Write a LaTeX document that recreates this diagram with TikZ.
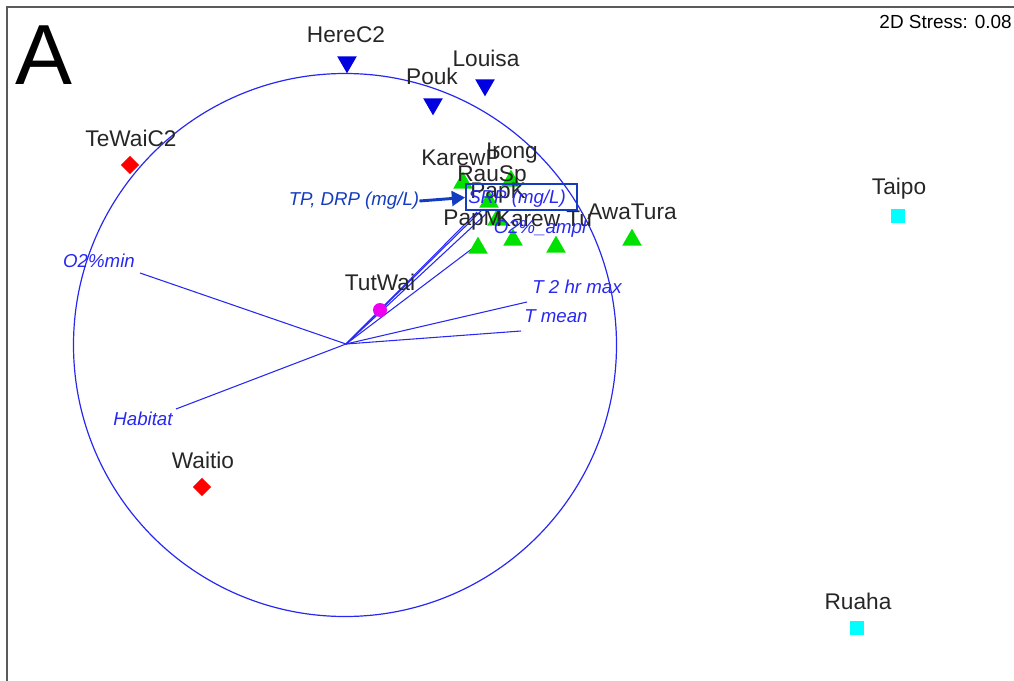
\documentclass[tikz,border=0pt]{standalone}
\usepackage{fontspec}
\setmainfont{Liberation Sans}
\usetikzlibrary{shapes.geometric,arrows.meta}
\definecolor{vecblue}{RGB}{40,40,240}
\definecolor{darkblue}{RGB}{20,60,190}
\definecolor{triblue}{RGB}{0,0,225}
\definecolor{grn}{RGB}{0,225,0}
\definecolor{cyn}{RGB}{0,255,255}
\definecolor{mag}{RGB}{240,0,240}
\definecolor{framegray}{RGB}{90,90,90}
\tikzset{
  site/.style={font=\fontsize{17}{17}\selectfont, text=black!85, inner sep=0pt},
  vlabel/.style={font=\fontsize{14}{14}\selectfont\itshape, text=vecblue, inner sep=0pt},
  vecline/.style={draw=vecblue, line width=0.8pt},
  uptri/.style={regular polygon, regular polygon sides=3, fill=grn, inner sep=0pt, minimum size=17pt},
  dntri/.style={regular polygon, regular polygon sides=3, shape border rotate=180, fill=triblue, inner sep=0pt, minimum size=17pt},
  dmd/.style={diamond, fill=red, inner sep=0pt, minimum size=14pt},
  sqr/.style={rectangle, fill=cyn, inner sep=0pt, minimum size=10.5pt},
  dot/.style={circle, fill=mag, inner sep=0pt, minimum size=10.5pt}
}
\begin{document}
\begin{tikzpicture}[x=0.75pt,y=-0.75pt]
\useasboundingbox (0,0) rectangle (1014,681);
% frame
\draw[framegray, line width=1.2pt] (7,681) -- (7,7) -- (1014,7);
\node[font=\fontsize{64}{64}\selectfont, inner sep=0pt] (A) at (44,55) {A};
\node[font=\fontsize{14.2}{14.2}\selectfont, anchor=east, inner sep=0pt] (stress) at (1012,22) {2D Stress: 0.08};

% circle
\coordinate (O) at (346,344);
\draw[vecblue, line width=0.9pt] (345,345) circle[radius=271.5*0.75pt];

% vectors
\coordinate (eO2min) at (140,273);
\coordinate (eHab) at (176,409);
\coordinate (eTmax) at (527,302);
\coordinate (eTmean) at (521,331);
\coordinate (eO2ampl) at (477,245);
\coordinate (eTP) at (477,212);
\coordinate (eDRP) at (482,210);
\coordinate (eSRP) at (486,214);
\foreach \e in {eO2min,eHab,eTmax,eTmean,eO2ampl,eTP,eDRP,eSRP}
  \draw[vecline] (O) -- (\e);

% sites
\node[dntri] (mHere) at (347,62) {};
\node[site] (lHere) at (346,35) {HereC2};
\node[dntri] (mLouisa) at (485,85) {};
\node[site] (lLouisa) at (486,58) {Louisa};
\node[dntri] (mPouk) at (433,104) {};
\node[site] (lPouk) at (432,76) {Pouk};
\node[dmd] (mTeWai) at (130,165) {};
\node[site] (lTeWai) at (131,138) {TeWaiC2};
\node[dmd] (mWaitio) at (202,487) {};
\node[site] (lWaitio) at (203,460) {Waitio};
\node[dot] (mTut) at (380,310) {};
\node[site] (lTut) at (380,282) {TutWai};
\node[sqr] (mTaipo) at (898,216) {};
\node[site] (lTaipo) at (899,189) {Taipo};
\node[sqr] (mRuaha) at (857,628) {};
\node[site] (lRuaha) at (858,601) {Ruaha};

% green sites
\node[uptri] (mKarewP) at (463,183) {};
\node[uptri] (mIrong) at (511,181) {};
\node[uptri] (mRauSp) at (489,202) {};
\node[uptri] (mPapK) at (497,220) {};
\node[uptri] (mPapM) at (478,248) {};
\node[uptri] (mAwh) at (513,240) {};
\node[uptri] (mKarewTu) at (556,247) {};
\node[uptri] (mAwa) at (632,240) {};
\node[site] (lIrong) at (512,153) {Irong};
\node[site] (lKarewP) at (461,158) {KarewP};
\node[site] (lRauSp) at (492,176) {RauSp};
\node[site] (lPapK) at (498,193) {PapK};
\node[site] (lPapM) at (473,220) {PapM};
\node[site] (lKarewTu) at (544,219) {Karew Tu};
\node[site] (lAwa) at (632,212) {AwaTura};

% vector labels
\node[vlabel] (tO2min) at (99,261) {O2\%min};
\node[vlabel] (tHab) at (143,419) {Habitat};
\node[vlabel] (tTmax) at (577,287) {T 2 hr max};
\node[vlabel] (tTmean) at (556,316) {T mean};
\node[vlabel] (tO2ampl) at (540,229) {O2\%\_ampl};
\node[vlabel, text=darkblue] (tTP) at (354,201) {TP, DRP (mg/L)};
\node[draw=darkblue, line width=1.5pt, minimum width=83pt, minimum height=19.5pt, inner sep=0pt] (box) at (521.5,197.5) {};
\node[vlabel] (tSRP) at (517,199) {SRP (mg/L)};
\draw[darkblue, line width=2.2pt, -{Triangle[length=10pt,width=11pt]}] (tTP.east) -- (box.west);
\end{tikzpicture}
\end{document}
